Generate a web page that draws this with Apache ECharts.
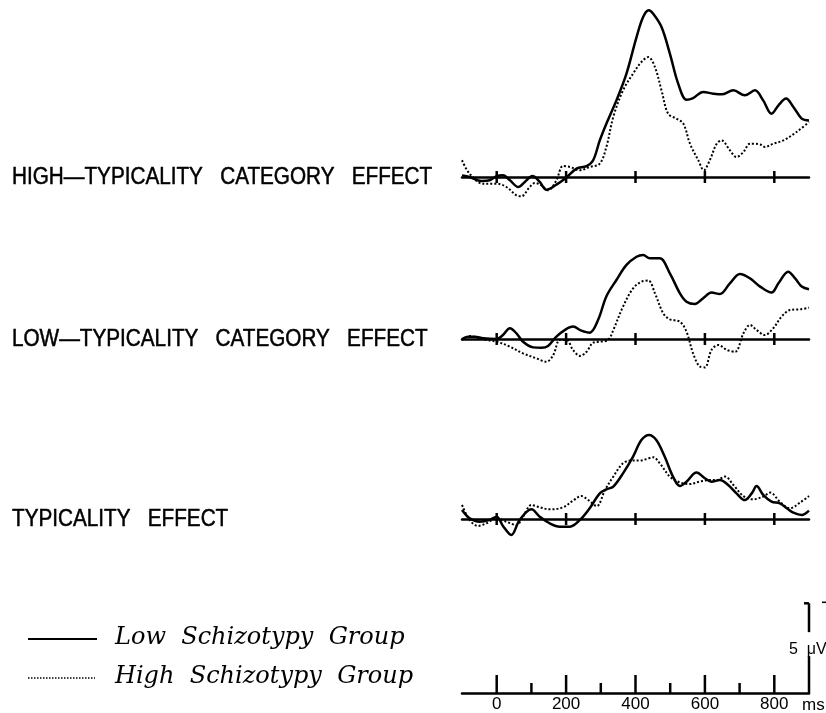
<!DOCTYPE html>
<html>
<head>
<meta charset="utf-8">
<script src="https://cdn.jsdelivr.net/npm/echarts@6.0.0/dist/echarts.min.js"></script>
<style>
html,body{margin:0;padding:0;background:#fff;}
#c{width:826px;height:713px;}
</style>
</head>
<body>
<div id="c"></div>
<script>
// ---------- DATA ----------
const panelTitles = ['HIGH—TYPICALITY   CATEGORY   EFFECT', 'LOW—TYPICALITY   CATEGORY   EFFECT', 'TYPICALITY   EFFECT'];
const legendNames = ['Low  Schizotypy  Group', 'High  Schizotypy  Group'];
const axisTickValues = [0, 200, 400, 600, 800];
const minorTickValues = [100, 300, 500, 700];
const scaleBarUV = 5;
const scaleBarLabel = '5  μV';
const timeUnit = 'ms';

// Panel 1: high-typicality category effect (μV, negative plotted up)
const t1Low = [-100,-78,-44,-20,0,18,38,62,81,103,124,143,172,200,230,259,278,297,316,345,374,403,422,438,451,475,499,523,547,566,595,624,648,682,715,744,768,792,812,834,855,879,900];
const v1Low = [-0.09,0,0.22,0.18,-0.05,-0.09,0.18,0.55,0.27,-0.05,0.27,0.70,0.42,0.04,-0.46,-0.60,-0.92,-2.01,-2.93,-4.21,-5.68,-7.69,-8.79,-9.16,-8.97,-8.24,-6.78,-5.13,-4.25,-4.34,-4.67,-4.58,-4.54,-4.76,-4.49,-4.76,-4.21,-3.48,-3.94,-4.31,-3.85,-3.21,-3.11];
const t1High = [-100,-78,-39,0,28,57,71,95,110,129,148,172,191,211,239,268,297,316,336,364,393,417,437,456,475,494,518,538,557,581,597,614,634,648,672,691,711,730,759,773,797,826,864,900];
const v1High = [-0.92,-0.18,0.37,0.37,0.55,1.01,1.06,0.55,0.33,0.46,0.73,0.18,-0.60,-0.55,-0.37,-0.55,-0.73,-1.65,-3.30,-4.76,-5.68,-6.32,-6.59,-6.04,-4.76,-3.48,-3.21,-2.93,-1.83,-0.92,-0.37,-0.92,-1.83,-2.01,-1.47,-1.10,-1.37,-1.83,-1.79,-1.65,-1.83,-2.01,-2.47,-3.02];

// Panel 2: low-typicality category effect
const t2Low = [-100,-83,-63,-39,0,18,38,57,76,105,129,148,172,196,220,244,268,292,316,345,374,403,422,441,470,499,528,547,571,595,619,643,672,701,730,759,792,812,840,860,879,900];
const v2Low = [0,-0.13,-0.13,-0.04,0,-0.22,-0.59,-0.31,0.15,0.46,0.48,0.38,-0.13,-0.49,-0.68,-0.46,-0.35,-1.04,-2.34,-3.24,-4.07,-4.52,-4.62,-4.43,-4.43,-3.61,-2.51,-2.05,-1.92,-2.24,-2.55,-2.47,-3.06,-3.57,-3.33,-2.88,-2.55,-3.06,-3.70,-3.33,-2.88,-2.73];
const t2High = [-100,-78,-59,-30,0,38,76,114,143,163,182,201,220,240,259,278,297,321,336,364,393,417,437,456,480,499,528,547,566,586,600,619,639,663,687,711,730,749,773,797,821,845,874,900];
const v2High = [0.05,-0.16,-0.09,0.05,0.15,0.42,0.79,1.06,1.25,0.88,0.05,0.05,0.60,0.93,0.70,0.20,0.15,0.05,-0.49,-1.78,-2.78,-3.15,-3.21,-2.51,-1.41,-1.08,-0.95,-0.40,0.79,1.52,1.56,0.60,0.33,0.60,0.70,-0.31,-0.77,-0.49,-0.22,-0.59,-1.23,-1.59,-1.63,-1.72];

// Panel 3: typicality effect
const t3Low = [-100,-78,-49,-20,0,18,42,66,100,124,153,182,211,240,268,297,316,336,364,393,417,439,460,484,508,528,547,576,600,619,643,667,691,715,735,749,768,792,816,836,855,879,900];
const v3Low = [-0.49,-0.04,0.15,0.05,-0.13,0.38,0.88,0.05,-0.53,-0.13,0.24,0.42,0.42,0.05,-0.59,-1.41,-1.63,-1.78,-2.51,-3.43,-4.34,-4.62,-4.34,-3.43,-2.33,-1.81,-2.05,-2.55,-2.24,-2.05,-2.14,-1.87,-1.41,-1.04,-1.41,-1.81,-1.32,-0.95,-0.86,-0.59,-0.35,-0.22,-0.46];
const t3High = [-100,-78,-54,-30,0,28,57,76,100,124,153,191,220,244,264,288,312,336,364,388,413,437,451,470,499,528,557,586,614,634,658,682,711,739,768,788,816,845,874,900];
const v3High = [-0.77,0.05,0.38,0.24,-0.04,0.15,0.33,-0.13,-0.77,-0.64,-0.53,-0.64,-1.01,-1.26,-1.04,-0.71,-1.59,-2.33,-3.06,-3.21,-3.21,-3.33,-3.39,-3.06,-2.33,-2.01,-1.92,-2.06,-2.14,-2.14,-2.33,-1.87,-1.26,-1.08,-1.23,-1.45,-0.95,-0.59,-0.90,-1.26];

// ---------- LAYOUT ----------
const PX = 18.2;               // pixels per μV
const gridLeft = 462, gridWidth = 347;
const panels = [
  {zeroY: 177, min: -9.6, max: 1.6, low: [t1Low, v1Low], high: [t1High, v1High]},
  {zeroY: 339, min: -5.0, max: 2.0, low: [t2Low, v2Low], high: [t2High, v2High]},
  {zeroY: 519, min: -5.0, max: 1.6, low: [t3Low, v3Low], high: [t3High, v3High]}
];
const bottomZeroY = 694.3;

const pairs = (t, v) => t.map((x, i) => [x, v[i]]);

const grids = [], xAxes = [], yAxes = [], series = [];
panels.forEach((p, i) => {
  grids.push({left: gridLeft, width: gridWidth, top: p.zeroY + p.min * PX, height: (p.max - p.min) * PX});
  xAxes.push({type: 'value', gridIndex: i, min: -100, max: 900, interval: 100,
    axisLine: {show: true, onZero: true, lineStyle: {color: '#000', width: 2.5}},
    axisTick: {show: false}, axisLabel: {show: false}, splitLine: {show: false}});
  yAxes.push({type: 'value', gridIndex: i, inverse: true, min: p.min, max: p.max, show: false, splitLine: {show: false}});
  series.push({type: 'line', xAxisIndex: i, yAxisIndex: i, data: pairs(p.low[0], p.low[1]), smooth: 0.35,
    showSymbol: false, clip: false, silent: true, lineStyle: {color: '#000', width: 2.5}});
  series.push({type: 'line', xAxisIndex: i, yAxisIndex: i, data: pairs(p.high[0], p.high[1]), smooth: 0.35,
    showSymbol: false, clip: false, silent: true, lineStyle: {color: '#000', width: 2, type: [2, 2]}});
  series.push({type: 'custom', xAxisIndex: i, yAxisIndex: i, silent: true, clip: false,
    data: axisTickValues.map(v => [v, 0]),
    renderItem: (params, api) => {
      const c = api.coord([api.value(0), 0]);
      return {type: 'line', shape: {x1: c[0], y1: c[1] - 6, x2: c[0], y2: c[1] + 6}, style: {stroke: '#000', lineWidth: 2.5}};
    }});
});

// bottom time / voltage scale
const bi = 3;
grids.push({left: gridLeft, width: gridWidth, top: bottomZeroY - scaleBarUV * PX, height: scaleBarUV * PX});
xAxes.push({type: 'value', gridIndex: bi, min: -100, max: 900, interval: 100,
  axisLine: {show: true, onZero: false, lineStyle: {color: '#000', width: 2.5}},
  axisTick: {show: false}, splitLine: {show: false},
  axisLabel: {show: true, color: '#000', fontSize: 17, fontFamily: 'Liberation Sans, Arial, sans-serif', margin: 3,
    showMinLabel: true, showMaxLabel: true,
    formatter: v => (axisTickValues.indexOf(v) >= 0 ? String(v) : '')}});
yAxes.push({type: 'value', gridIndex: bi, inverse: true, min: -scaleBarUV, max: 0, show: false, splitLine: {show: false}});
const tickSeries = (vals, len) => ({type: 'custom', xAxisIndex: bi, yAxisIndex: bi, silent: true, clip: false,
  data: vals.map(v => [v, 0]),
  renderItem: (params, api) => {
    const c = api.coord([api.value(0), 0]);
    return {type: 'line', shape: {x1: c[0], y1: c[1] - len, x2: c[0], y2: c[1]}, style: {stroke: '#000', lineWidth: 2.5}};
  }});
series.push(tickSeries(axisTickValues, 18));
series.push(tickSeries(minorTickValues, 10));
series.push({type: 'custom', xAxisIndex: bi, yAxisIndex: bi, silent: true, clip: false,
  data: [[900, 0, -scaleBarUV]],
  renderItem: (params, api) => {
    const b = api.coord([api.value(0), api.value(1)]);
    const t = api.coord([api.value(0), api.value(2)]);
    const mid = (b[1] + t[1]) / 2 - 4;
    const st = {stroke: '#000', lineWidth: 2.5};
    return {type: 'group', children: [
      {type: 'line', shape: {x1: b[0], y1: b[1], x2: b[0], y2: mid + 12}, style: st},
      {type: 'line', shape: {x1: b[0], y1: mid - 12, x2: b[0], y2: t[1]}, style: st},
      {type: 'line', shape: {x1: b[0] - 5, y1: t[1], x2: b[0], y2: t[1]}, style: st},
      {type: 'line', shape: {x1: b[0] + 13, y1: t[1] - 1, x2: b[0] + 19, y2: t[1] - 1}, style: {stroke: '#000', lineWidth: 1.5}},
      {type: 'text', x: b[0] - 20, y: mid + 5, style: {text: scaleBarLabel, fill: '#000', font: '16px "Liberation Sans", Arial, sans-serif', textAlign: 'left', textVerticalAlign: 'middle'}}
    ]};
  }});

// ---------- GRAPHIC TEXT ----------
const graphic = [];
panels.forEach((p, i) => {
  graphic.push({type: 'text', x: 12, y: p.zeroY + 1, scaleX: 0.9,
    style: {text: panelTitles[i], fill: '#000', stroke: '#000', lineWidth: 0.5,
      font: '23px "Liberation Sans", Arial, sans-serif', textVerticalAlign: 'middle'}});
});
graphic.push({type: 'line', shape: {x1: 28, y1: 639, x2: 97, y2: 639}, style: {stroke: '#000', lineWidth: 2}});
graphic.push({type: 'line', shape: {x1: 28, y1: 678, x2: 95, y2: 678}, style: {stroke: '#000', lineWidth: 1.5, lineDash: [1.5, 1.5]}});
graphic.push({type: 'text', x: 115, y: 638, style: {text: legendNames[0], fill: '#000', font: 'italic 24px "DejaVu Serif", serif', textVerticalAlign: 'middle'}});
graphic.push({type: 'text', x: 115, y: 677, style: {text: legendNames[1], fill: '#000', font: 'italic 24px "DejaVu Serif", serif', textVerticalAlign: 'middle'}});
graphic.push({type: 'text', x: 802, y: 705, style: {text: timeUnit, fill: '#000', font: '17px "Liberation Sans", Arial, sans-serif', textVerticalAlign: 'middle'}});

const chart = echarts.init(document.getElementById('c'), null, {renderer: 'canvas'});
chart.setOption({
  animation: false,
  backgroundColor: '#fff',
  grid: grids, xAxis: xAxes, yAxis: yAxes, series: series, graphic: graphic
});
</script>
</body>
</html>
